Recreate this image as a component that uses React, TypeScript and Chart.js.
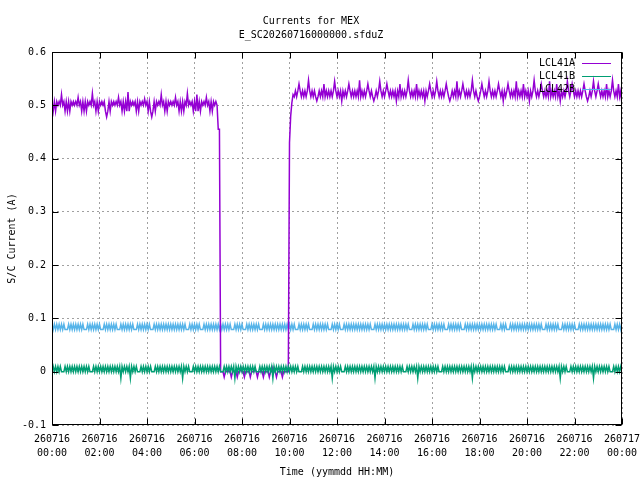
import { useEffect, useRef } from "react"
import { Chart, registerables } from "chart.js"

Chart.register(...registerables)

const FONT_FAMILY = "'DejaVu Sans Mono', monospace"

const SERIES_LABELS = ["LCL41A", "LCL41B", "LCL42B"]
const SERIES_COLORS = ["#9400d3", "#009e73", "#56b4e9"]

// one sample every 3 minutes, 00:00 to 24:00, values in mA
const SAMPLE_STEP_HOURS = 0.05

const LCL41A_MA = [
  507, 489, 507, 489, 507, 500, 507, 500, 520, 500, 507, 489, 507, 489, 507, 489, 507, 500, 507, 500,
  507, 500, 515, 500, 507, 489, 507, 489, 507, 489, 507, 500, 507, 500, 522, 500, 507, 489, 507, 489,
  507, 500, 507, 500, 507, 489, 478, 489, 507, 489, 507, 500, 507, 500, 507, 500, 515, 500, 507, 489,
  507, 489, 507, 489, 525, 489, 507, 500, 507, 500, 507, 489, 507, 489, 507, 500, 507, 500, 512, 500,
  507, 489, 507, 489, 478, 489, 507, 489, 507, 500, 507, 500, 520, 500, 507, 489, 507, 489, 507, 500,
  507, 500, 507, 500, 515, 500, 507, 489, 507, 489, 507, 489, 507, 500, 522, 500, 507, 500, 507, 489,
  507, 489, 520, 489, 507, 489, 507, 500, 507, 500, 515, 500, 507, 489, 507, 489, 507, 500, 507, 500,
  455, 455,
  0, 0, 0, -10, 0, 0, 5, 0, 0, -10, 0, 0, 0, 0, -10, 0, 0, 8, 0, 0,
  -10, 0, 0, 0, 0, -10, 0, 0, 0, 5, 0, -10, 0, 0, 0, 0, -10, 0, 0, 0,
  0, -10, 0, 0, 8, 0, 0, -10, 0, 0, 0, 0, -10, 0, 0, 0, 0, 0,
  430, 480, 505, 520,
  516, 527, 516, 527, 540, 527, 516, 527, 516, 527, 516, 527, 547, 527, 516, 527, 516, 527, 516, 508,
  516, 527, 516, 527, 516, 540, 516, 527, 516, 527, 516, 527, 516, 527, 545, 527, 516, 527, 516, 527,
  508, 527, 516, 527, 516, 527, 540, 527, 516, 527, 516, 527, 516, 527, 516, 547, 516, 527, 516, 527,
  516, 527, 540, 527, 516, 527, 516, 508, 516, 527, 516, 527, 545, 527, 516, 527, 516, 527, 540, 527,
  516, 527, 516, 527, 516, 527, 508, 527, 516, 540, 516, 527, 516, 527, 516, 527, 547, 527, 516, 527,
  516, 527, 516, 540, 516, 527, 516, 527, 516, 527, 508, 527, 516, 527, 540, 527, 516, 527, 516, 527,
  545, 527, 516, 527, 516, 527, 516, 527, 540, 527, 516, 508, 516, 527, 516, 527, 516, 545, 516, 527,
  516, 527, 540, 527, 516, 527, 516, 527, 516, 527, 547, 527, 516, 527, 516, 508, 516, 527, 540, 527,
  516, 527, 516, 527, 545, 527, 516, 527, 516, 527, 516, 527, 540, 527, 516, 527, 508, 527, 516, 527,
  540, 527, 516, 527, 516, 527, 516, 545, 516, 527, 516, 527, 516, 540, 516, 527, 516, 527, 508, 527,
  516, 527, 547, 527, 516, 527, 516, 527, 540, 527, 516, 527, 516, 527, 516, 545, 516, 527, 516, 527,
  516, 540, 516, 527, 508, 527, 516, 527, 516, 527, 545, 527, 516, 527, 540, 527, 516, 527, 516, 527,
  516, 527, 516, 527, 540, 527, 516, 508, 516, 527, 516, 527, 545, 527, 516, 527, 540, 527, 516, 527,
  516, 527, 516, 540, 516, 527, 516, 527, 547, 527, 516, 527, 516, 540, 516, 527, 500,
]

const LCL41B_MA = [
  0, 10, 0, 10, 0, 10, 0, 10, 0, 0, 0, 10, 0, 10, 0, 10, 0, 10, 0, 10,
  0, 10, 0, 10, 0, 10, 0, 10, 0, 10, 0, 10, 0, 0, 0, 10, 0, 10, 0, 10,
  0, 10, 0, 10, 0, 10, 0, 10, 0, 10, 0, 10, 0, 10, 0, 10, 0, 10, -12, 10,
  0, 10, 0, 10, 0, 10, -12, 10, 0, 10, 0, 10, 0, 0, 0, 10, 0, 10, 0, 10,
  0, 10, 0, 10, 0, 0, 0, 10, 0, 10, 0, 10, 0, 10, 0, 10, 0, 10, 0, 10,
  0, 10, 0, 10, 0, 10, 0, 10, 0, 10, -12, 10, 0, 10, 0, 10, 0, 0, 0, 10,
  0, 10, 0, 10, 0, 10, 0, 10, 0, 10, 0, 10, 0, 10, 0, 10, 0, 10, 0, 10,
  0, 10, 0, 0, 0, 10, 0, 10, 0, 10, 0, 10, 0, 10, -12, 10, 0, 10, 0, 10,
  0, 10, 0, 10, 0, 10, 0, 10, 0, 10, 0, 10, 0, 0, 0, 10, 0, 10, 0, 10,
  0, 10, 0, 10, 0, 10, -12, 10, 0, 10, 0, 10, 0, 10, 0, 10, 0, 10, 0, 10,
  0, 10, 0, 10, 0, 10, 0, 10, 0, 0, 0, 10, 0, 10, 0, 10, 0, 10, 0, 10,
  0, 10, 0, 10, 0, 10, 0, 10, 0, 10, 0, 10, 0, 10, 0, 10, -12, 10, 0, 10,
  0, 10, 0, 10, 0, 0, 0, 10, 0, 10, 0, 10, 0, 10, 0, 10, 0, 10, 0, 10,
  0, 10, 0, 10, 0, 10, 0, 10, 0, 10, 0, 10, -12, 10, 0, 10, 0, 10, 0, 10,
  0, 10, 0, 10, 0, 10, 0, 10, 0, 10, 0, 10, 0, 10, 0, 10, 0, 0, 0, 10,
  0, 10, 0, 10, 0, 10, 0, 10, -12, 10, 0, 10, 0, 10, 0, 10, 0, 10, 0, 10,
  0, 10, 0, 10, 0, 10, 0, 0, 0, 10, 0, 10, 0, 10, 0, 10, 0, 10, 0, 10,
  0, 10, 0, 10, 0, 10, 0, 10, 0, 10, 0, 10, 0, 10, -12, 10, 0, 10, 0, 10,
  0, 10, 0, 10, 0, 10, 0, 10, 0, 10, 0, 10, 0, 10, 0, 10, 0, 10, 0, 10,
  0, 10, 0, 0, 0, 10, 0, 10, 0, 10, 0, 10, 0, 10, 0, 10, 0, 10, 0, 10,
  0, 10, 0, 10, 0, 10, 0, 10, 0, 10, 0, 10, 0, 10, 0, 10, 0, 10, 0, 10,
  0, 10, 0, 10, 0, 10, 0, 10, -12, 10, 0, 10, 0, 10, 0, 0, 0, 10, 0, 10,
  0, 10, 0, 10, 0, 10, 0, 10, 0, 10, 0, 10, 0, 10, 0, 10, -12, 10, 0, 10,
  0, 10, 0, 10, 0, 10, 0, 10, 0, 10, 0, 0, 0, 10, 0, 10, 0, 10, 0, 10,
  0,
]

const LCL42B_MA = [
  89, 79, 89, 79, 89, 79, 89, 79, 89, 79, 89, 79, 79, 79, 89, 79, 89, 79, 89, 79,
  89, 79, 89, 79, 89, 79, 89, 79, 79, 79, 89, 79, 89, 79, 89, 79, 89, 79, 89, 79,
  89, 79, 79, 79, 89, 79, 89, 79, 89, 79, 89, 79, 89, 79, 89, 79, 79, 79, 89, 79,
  89, 79, 89, 79, 89, 79, 89, 79, 89, 79, 79, 79, 89, 79, 89, 79, 89, 79, 89, 79,
  89, 79, 89, 79, 79, 79, 89, 79, 89, 79, 89, 79, 89, 79, 89, 79, 89, 79, 89, 79,
  89, 79, 89, 79, 89, 79, 89, 79, 89, 79, 89, 79, 89, 79, 79, 79, 89, 79, 89, 79,
  89, 79, 89, 79, 89, 79, 79, 79, 89, 79, 89, 79, 89, 79, 89, 79, 89, 79, 89, 79,
  89, 79, 89, 79, 89, 79, 89, 79, 89, 79, 89, 79, 79, 79, 89, 79, 89, 79, 89, 79,
  89, 79, 79, 79, 89, 79, 89, 79, 89, 79, 89, 79, 89, 79, 89, 79, 79, 79, 89, 79,
  89, 79, 89, 79, 89, 79, 89, 79, 89, 79, 89, 79, 89, 79, 89, 79, 89, 79, 89, 79,
  89, 79, 89, 79, 89, 79, 79, 79, 89, 79, 89, 79, 89, 79, 89, 79, 89, 79, 79, 79,
  89, 79, 89, 79, 89, 79, 89, 79, 89, 79, 89, 79, 89, 79, 79, 79, 89, 79, 89, 79,
  89, 79, 89, 79, 79, 79, 89, 79, 89, 79, 89, 79, 89, 79, 89, 79, 89, 79, 89, 79,
  89, 79, 89, 79, 89, 79, 89, 79, 89, 79, 79, 79, 89, 79, 89, 79, 89, 79, 89, 79,
  89, 79, 89, 79, 89, 79, 89, 79, 89, 79, 89, 79, 89, 79, 89, 79, 89, 79, 89, 79,
  89, 79, 79, 79, 89, 79, 89, 79, 89, 79, 89, 79, 89, 79, 89, 79, 89, 79, 79, 79,
  89, 79, 89, 79, 89, 79, 89, 79, 89, 79, 89, 79, 79, 79, 89, 79, 89, 79, 89, 79,
  89, 79, 89, 79, 89, 79, 79, 79, 89, 79, 89, 79, 89, 79, 89, 79, 89, 79, 89, 79,
  89, 79, 89, 79, 89, 79, 89, 79, 89, 79, 89, 79, 89, 79, 89, 79, 79, 79, 89, 79,
  89, 79, 89, 79, 79, 79, 89, 79, 89, 79, 89, 79, 89, 79, 89, 79, 89, 79, 89, 79,
  89, 79, 89, 79, 89, 79, 89, 79, 89, 79, 89, 79, 89, 79, 79, 79, 89, 79, 89, 79,
  89, 79, 89, 79, 89, 79, 89, 79, 79, 79, 89, 79, 89, 79, 89, 79, 89, 79, 89, 79,
  89, 79, 79, 79, 89, 79, 89, 79, 89, 79, 89, 79, 89, 79, 89, 79, 89, 79, 89, 79,
  89, 79, 89, 79, 89, 79, 89, 79, 89, 79, 89, 79, 79, 79, 89, 79, 89, 79, 89, 79,
  89,
]

const X_TICK_DATES = [
  "260716", "260716", "260716", "260716", "260716", "260716", "260716",
  "260716", "260716", "260716", "260716", "260716", "260717",
]
const X_TICK_TIMES = [
  "00:00", "02:00", "04:00", "06:00", "08:00", "10:00", "12:00",
  "14:00", "16:00", "18:00", "20:00", "22:00", "00:00",
]
const Y_TICK_LABELS = ["-0.1", "0", "0.1", "0.2", "0.3", "0.4", "0.5", "0.6"]

const toPoints = (values: number[]) =>
  values.map((v, i) => ({ x: i * SAMPLE_STEP_HOURS, y: v / 1000 }))

// gnuplot style frame: solid border with inward ticks on all four sides
const framePlugin = {
  id: "frame",
  afterDatasetsDraw(chart: any) {
    const { ctx, chartArea, scales } = chart
    const l = Math.round(chartArea.left) + 0.5
    const r = Math.round(chartArea.right) - 0.5
    const t = Math.round(chartArea.top) + 0.5
    const b = Math.round(chartArea.bottom) - 0.5
    ctx.save()
    ctx.strokeStyle = "#000"
    ctx.lineWidth = 1
    ctx.beginPath()
    scales.x.ticks.forEach((tick: any) => {
      const px = Math.round(scales.x.getPixelForValue(tick.value)) + 0.5
      ctx.moveTo(px, b)
      ctx.lineTo(px, b - 6)
      ctx.moveTo(px, t)
      ctx.lineTo(px, t + 6)
    })
    scales.y.ticks.forEach((tick: any) => {
      const py = Math.round(scales.y.getPixelForValue(tick.value)) + 0.5
      ctx.moveTo(l, py)
      ctx.lineTo(l + 6, py)
      ctx.moveTo(r, py)
      ctx.lineTo(r - 6, py)
    })
    ctx.stroke()
    ctx.strokeRect(l, t, r - l, b - t)
    ctx.restore()
  },
}

// key inside the top right corner: label first, line sample after it
const keyPlugin = {
  id: "key",
  afterDraw(chart: any) {
    const { ctx, chartArea } = chart
    ctx.save()
    ctx.font = `10px ${FONT_FAMILY}`
    ctx.textAlign = "right"
    ctx.textBaseline = "middle"
    chart.data.datasets.forEach((ds: any, i: number) => {
      const y = Math.round(chartArea.top + 11 + i * 13) + 0.5
      ctx.fillStyle = "#000"
      ctx.fillText(ds.label, chartArea.right - 47, y)
      ctx.strokeStyle = ds.borderColor
      ctx.lineWidth = 1
      ctx.beginPath()
      ctx.moveTo(chartArea.right - 40, y)
      ctx.lineTo(chartArea.right - 11, y)
      ctx.stroke()
    })
    ctx.restore()
  },
}

export default function App() {
  const canvasRef = useRef<HTMLCanvasElement>(null)
  const chartRef = useRef<Chart | null>(null)

  useEffect(() => {
    if (!canvasRef.current) return
    if (chartRef.current) chartRef.current.destroy()

    const font = { family: FONT_FAMILY, size: 10, lineHeight: 1.4 }
    const seriesValues = [LCL41A_MA, LCL41B_MA, LCL42B_MA]
    const drawOrder = [1, 0, 2]

    chartRef.current = new Chart(canvasRef.current, {
      type: "line",
      data: {
        datasets: SERIES_LABELS.map((label, i) => ({
          label,
          data: toPoints(seriesValues[i]),
          borderColor: SERIES_COLORS[i],
          backgroundColor: SERIES_COLORS[i],
          borderWidth: 1.5,
          pointRadius: 0,
          fill: false,
          tension: 0,
          order: drawOrder[i],
        })),
      },
      options: {
        animation: false,
        responsive: true,
        maintainAspectRatio: false,
        devicePixelRatio: 1,
        layout: { padding: { left: 0, right: 18, top: 0, bottom: 0 } },
        plugins: {
          legend: { display: false },
          tooltip: { enabled: false },
          title: {
            display: true,
            text: ["Currents for MEX", "E_SC20260716000000.sfduZ"],
            color: "#000",
            font: { ...font, weight: "normal" },
            padding: { top: 14, bottom: 10 },
          },
        },
        scales: {
          x: {
            type: "linear",
            min: 0,
            max: 24,
            afterFit: (scale: any) => {
              scale.height = 55
              scale.paddingLeft = 0
              scale.paddingRight = 0
            },
            ticks: {
              stepSize: 2,
              autoSkip: false,
              maxRotation: 0,
              padding: 7,
              color: "#000",
              font,
              callback: (_v: any, i: number) => [X_TICK_DATES[i], X_TICK_TIMES[i]],
            },
            grid: { color: "#a0a0a0", drawTicks: false },
            border: { display: false, dash: [2, 3] },
            title: {
              display: true,
              text: "Time (yymmdd HH:MM)",
              color: "#000",
              font,
              padding: { top: 0, bottom: 1 },
            },
          },
          y: {
            type: "linear",
            min: -0.1,
            max: 0.6,
            afterFit: (scale: any) => {
              scale.width = 52
            },
            ticks: {
              stepSize: 0.1,
              padding: 6,
              color: "#000",
              font,
              callback: (_v: any, i: number) => Y_TICK_LABELS[i],
            },
            grid: { color: "#a0a0a0", drawTicks: false },
            border: { display: false, dash: [2, 3] },
            title: {
              display: true,
              text: "S/C Current (A)",
              color: "#000",
              font,
              padding: { top: 5, bottom: 0 },
            },
          },
        },
      },
      plugins: [framePlugin, keyPlugin],
    })

    return () => {
      if (chartRef.current) {
        chartRef.current.destroy()
        chartRef.current = null
      }
    }
  }, [])

  return (
    <div style={{ position: "absolute", left: 0, top: 0, width: 640, height: 480, background: "#fff" }}>
      <canvas ref={canvasRef} />
    </div>
  )
}
